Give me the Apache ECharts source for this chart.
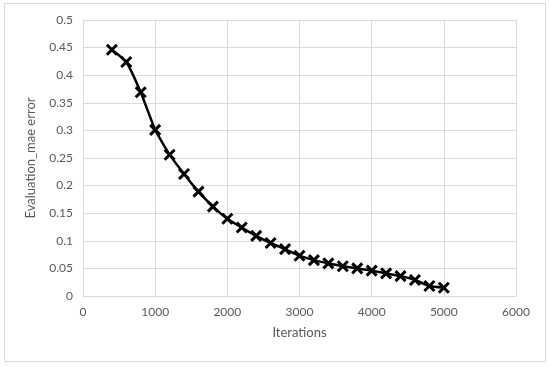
<!DOCTYPE html>
<html>
<head>
<meta charset="utf-8">
<script src="https://cdn.jsdelivr.net/npm/echarts@6/dist/echarts.min.js"></script>
<style>
  html, body { margin: 0; padding: 0; background: #fff; }
  #chart { width: 550px; height: 367px; }
</style>
</head>
<body>
<div id="chart"></div>
<script>
var iterations = [400, 600, 800, 1000, 1200, 1400, 1600, 1800, 2000, 2200, 2400, 2600,
  2800, 3000, 3200, 3400, 3600, 3800, 4000, 4200, 4400, 4600, 4800, 5000]
var maeError = [0.446, 0.424, 0.369, 0.301, 0.256, 0.221, 0.189, 0.162, 0.140, 0.124, 0.109, 0.096,
  0.085, 0.073, 0.065, 0.059, 0.054, 0.050, 0.046, 0.041, 0.036, 0.029, 0.018, 0.015]

var points = iterations.map(function (x, i) { return [x, maeError[i]] })
var font = 'Lato, "Liberation Sans", sans-serif'

var chart = echarts.init(document.getElementById('chart'))
chart.setOption({
  animation: false,
  graphic: [{
    type: 'rect',
    shape: { x: 4.5, y: 3.5, width: 541, height: 358 },
    style: { fill: 'none', stroke: '#d9d9d9', lineWidth: 1 },
    silent: true
  }],
  grid: { left: 83, right: 34, top: 20, bottom: 71 },
  xAxis: {
    type: 'value',
    min: 0,
    max: 6000,
    interval: 1000,
    name: 'Iterations',
    nameLocation: 'middle',
    nameGap: 30,
    nameTextStyle: { color: '#595959', fontSize: 13, fontFamily: font },
    axisLine: { show: true, lineStyle: { color: '#d9d9d9' } },
    axisTick: { show: false },
    axisLabel: {
      color: '#595959', fontSize: 12, fontFamily: font, margin: 10,
      formatter: function (v) { return String(v) }
    },
    splitLine: { show: true, lineStyle: { color: '#d9d9d9', width: 1 } }
  },
  yAxis: {
    type: 'value',
    min: 0,
    max: 0.5,
    interval: 0.05,
    name: 'Evaluation_mae error',
    nameLocation: 'middle',
    nameGap: 46,
    nameTextStyle: { color: '#595959', fontSize: 13, fontFamily: font },
    axisLine: { show: false },
    axisTick: { show: false },
    axisLabel: {
      color: '#595959', fontSize: 12, fontFamily: font, margin: 10,
      formatter: function (v) { return String(parseFloat(v.toFixed(2))) }
    },
    splitLine: { show: true, lineStyle: { color: '#d9d9d9', width: 1 } }
  },
  series: [{
    type: 'line',
    data: points,
    smooth: 0.15,
    lineStyle: { color: '#000', width: 2.5 },
    symbol: 'path://M0,0L10,10M10,0L0,10',
    symbolSize: 10,
    itemStyle: { color: 'none', borderColor: '#000', borderWidth: 3 },
    showAllSymbol: true
  }]
})
</script>
</body>
</html>
